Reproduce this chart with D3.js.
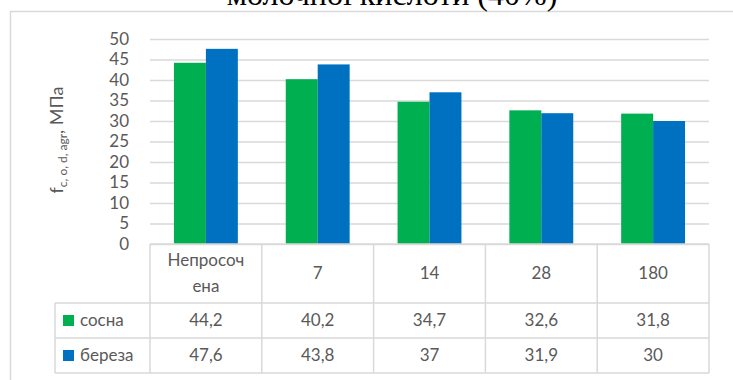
<!DOCTYPE html>
<html>
<head>
<meta charset="utf-8">
<script src="https://cdn.jsdelivr.net/npm/d3@7"></script>
<style>
  body { margin: 0; background: #fff; }
  svg { display: block; }
  text { font-family: Lato, "Open Sans", sans-serif; fill: #595959; }
</style>
</head>
<body>
<div id="chart-area"></div>
<script>
const categories = ["Непросочена", "7", "14", "28", "180"]
const categoryLabels = [["Непросоч", "ена"], ["7"], ["14"], ["28"], ["180"]]
const seriesNames = ["сосна", "береза"]
const sosna = [44.2, 40.2, 34.7, 32.6, 31.8]
const bereza = [47.6, 43.8, 37, 31.9, 30]
const yTicks = [0, 5, 10, 15, 20, 25, 30, 35, 40, 45, 50]
const titleText = "молочної кислоти (40%)"

const W = 733
const H = 380
const COLORS = ["#00B050", "#0070C0"]
const GRID = "#D9D9D9"

const PLOT = { LEFT: 150, RIGHT: 709, TOP: 39, BOTTOM: 244 }
const ROW_H = 35
const HEADER_H = 59
const LEGEND_LEFT = 55

const svg = d3.select("#chart-area").append("svg")
  .attr("width", W)
  .attr("height", H)

// chart frame
svg.append("rect")
  .attr("x", 10.5)
  .attr("y", 11.5)
  .attr("width", W)
  .attr("height", H)
  .attr("fill", "none")
  .attr("stroke", GRID)
  .attr("stroke-width", 1.5)

// title (its top is cut off by the page edge, as in the original)
svg.append("text")
  .attr("x", 392)
  .attr("y", 5)
  .attr("text-anchor", "middle")
  .attr("font-size", "32px")
  .style("font-family", "'Liberation Serif', 'Times New Roman', serif")
  .style("fill", "#000")
  .text(titleText)

const x0 = d3.scaleBand()
  .domain(categories)
  .range([PLOT.LEFT, PLOT.RIGHT])
  .paddingInner(0)
  .paddingOuter(0)

const x1 = d3.scaleBand()
  .domain(seriesNames)
  .range([0, x0.bandwidth()])
  .paddingInner(0)
  .paddingOuter(0.75)

const y = d3.scaleLinear()
  .domain([0, 50])
  .range([PLOT.BOTTOM, PLOT.TOP])

// gridlines + tick labels
const yAxis = svg.append("g")
  .attr("transform", `translate(${PLOT.LEFT}, 0)`)
  .call(d3.axisLeft(y)
    .tickValues(yTicks)
    .tickSize(-(PLOT.RIGHT - PLOT.LEFT))
    .tickPadding(21)
    .tickFormat(d => d))
yAxis.select(".domain").remove()
yAxis.selectAll(".tick line")
  .attr("stroke", GRID)
  .attr("stroke-width", 1.5)
yAxis.selectAll(".tick text")
  .attr("font-size", "17px")
  .attr("fill", "#595959")
  .style("font-family", "Lato, sans-serif")

// y label
const yLabel = svg.append("text")
  .attr("transform", `translate(63, 140) rotate(-90)`)
  .attr("text-anchor", "middle")
  .attr("font-size", "18px")
yLabel.append("tspan").text("f")
yLabel.append("tspan")
  .attr("font-size", "12px")
  .attr("dy", 4)
  .text("c, o, d, agr")
yLabel.append("tspan")
  .attr("dy", -4)
  .text(", МПа")

// bars
const data = categories.map((c, i) => ({ cat: c, values: [sosna[i], bereza[i]] }))

const groups = svg.selectAll("g.group")
  .data(data)
  .enter().append("g")
  .attr("class", "group")
  .attr("transform", d => `translate(${x0(d.cat)}, 0)`)

groups.selectAll("rect")
  .data(d => d.values.map((v, j) => ({ name: seriesNames[j], value: v, j })))
  .enter().append("rect")
  .attr("x", d => x1(d.name))
  .attr("y", d => y(d.value))
  .attr("width", x1.bandwidth())
  .attr("height", d => PLOT.BOTTOM - y(d.value))
  .attr("fill", d => COLORS[d.j])

// data table
const table = svg.append("g")
const lineAttr = sel => sel.attr("stroke", GRID).attr("stroke-width", 1.5)

const tableBottom = PLOT.BOTTOM + HEADER_H + ROW_H * 2

// horizontal lines
table.append("line").call(lineAttr)
  .attr("x1", PLOT.LEFT).attr("x2", PLOT.RIGHT)
  .attr("y1", PLOT.BOTTOM).attr("y2", PLOT.BOTTOM)
;[PLOT.BOTTOM + HEADER_H, PLOT.BOTTOM + HEADER_H + ROW_H, tableBottom].forEach(yy => {
  table.append("line").call(lineAttr)
    .attr("x1", LEGEND_LEFT).attr("x2", PLOT.RIGHT)
    .attr("y1", yy).attr("y2", yy)
})

// vertical lines
categories.forEach(c => {
  table.append("line").call(lineAttr)
    .attr("x1", x0(c)).attr("x2", x0(c))
    .attr("y1", PLOT.BOTTOM).attr("y2", tableBottom)
})
table.append("line").call(lineAttr)
  .attr("x1", PLOT.RIGHT).attr("x2", PLOT.RIGHT)
  .attr("y1", PLOT.BOTTOM).attr("y2", tableBottom)
table.append("line").call(lineAttr)
  .attr("x1", LEGEND_LEFT).attr("x2", LEGEND_LEFT)
  .attr("y1", PLOT.BOTTOM + HEADER_H).attr("y2", tableBottom)

// header labels
categories.forEach((c, i) => {
  const lines = categoryLabels[i]
  const cx = x0(c) + x0.bandwidth() / 2
  const cy = PLOT.BOTTOM + HEADER_H / 2
  lines.forEach((l, k) => {
    table.append("text")
      .attr("x", cx)
      .attr("y", cy + (k - (lines.length - 1) / 2) * 26)
      .attr("dy", "0.35em")
      .attr("text-anchor", "middle")
      .attr("font-size", "17px")
      .text(l)
  })
})

// data rows
const rows = [sosna, bereza]
rows.forEach((vals, r) => {
  const cy = PLOT.BOTTOM + HEADER_H + ROW_H * r + ROW_H / 2
  table.append("rect")
    .attr("x", 63)
    .attr("y", cy - 5.5)
    .attr("width", 11)
    .attr("height", 11)
    .attr("fill", COLORS[r])
  table.append("text")
    .attr("x", 80)
    .attr("y", cy)
    .attr("dy", "0.35em")
    .attr("font-size", "17px")
    .text(seriesNames[r])
  vals.forEach((v, i) => {
    table.append("text")
      .attr("x", x0(categories[i]) + x0.bandwidth() / 2)
      .attr("y", cy)
      .attr("dy", "0.35em")
      .attr("text-anchor", "middle")
      .attr("font-size", "17px")
      .text(String(v).replace(".", ","))
  })
})
</script>
</body>
</html>
